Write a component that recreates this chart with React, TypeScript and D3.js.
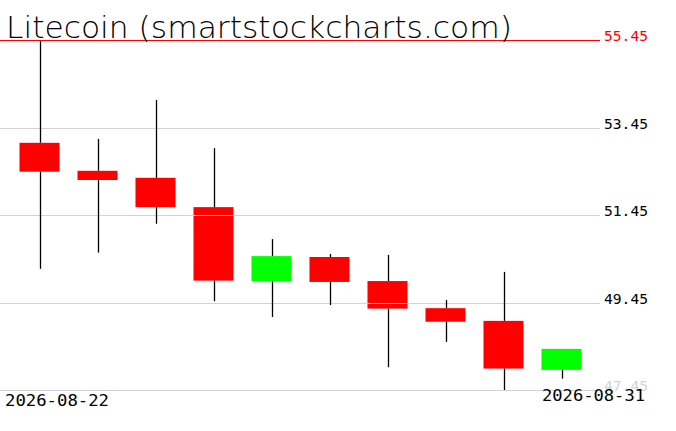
import { useEffect, useRef } from "react";
import * as d3 from "d3";

const dates = ["2026-08-22", "2026-08-23", "2026-08-24", "2026-08-25", "2026-08-26", "2026-08-27", "2026-08-28", "2026-08-29", "2026-08-30", "2026-08-31"];
const opens = [53.10, 52.46, 52.30, 51.63, 49.94, 50.49, 49.94, 49.32, 49.03, 47.91];
const highs = [55.45, 53.19, 54.08, 52.98, 50.90, 50.56, 50.54, 49.51, 50.15, 48.39];
const lows = [50.22, 50.59, 51.25, 49.48, 49.12, 49.39, 47.97, 48.55, 47.45, 47.71];
const closes = [52.44, 52.25, 51.63, 49.95, 50.51, 49.92, 49.31, 49.01, 47.94, 48.39];
const yTicks = [47.45, 49.45, 51.45, 53.45, 55.45];
const title = "Litecoin (smartstockcharts.com)";

export default function App() {
  const svgRef = useRef<SVGSVGElement>(null);

  useEffect(() => {
    if (!svgRef.current) return;
    const width = 676;
    const height = 431;
    const svg = d3.select(svgRef.current);
    svg.selectAll("*").remove();
    svg.attr("width", width).attr("height", height);

    const rows = dates.map((d, i) => ({ date: d, open: opens[i], high: highs[i], low: lows[i], close: closes[i] }));

    const x = d3.scaleBand<string>()
      .domain(dates)
      .range([10.5, 590.5])
      .paddingInner(0.31)
      .paddingOuter(0.155);
    const y = d3.scaleLinear().domain([47.45, 55.45]).range([390, 40]);

    const mono = "'DejaVu Sans Mono', monospace";

    // candle bodies
    svg.append("g")
      .selectAll("rect")
      .data(rows)
      .enter()
      .append("rect")
      .attr("x", d => x(d.date)!)
      .attr("width", x.bandwidth())
      .attr("y", d => y(Math.max(d.open, d.close)))
      .attr("height", d => Math.max(1, Math.abs(y(d.open) - y(d.close))))
      .attr("fill", d => (d.close >= d.open ? "#00ff00" : "#ff0000"));

    // gridlines (top one red)
    svg.append("g")
      .selectAll("line")
      .data(yTicks)
      .enter()
      .append("line")
      .attr("x1", 0)
      .attr("x2", 600)
      .attr("y1", d => Math.round(y(d)) + 0.5)
      .attr("y2", d => Math.round(y(d)) + 0.5)
      .attr("stroke", d => (d === 55.45 ? "#ff0000" : "#d3d3d3"))
      .attr("stroke-width", 1);

    // wicks, upper and lower parts
    const cx = (d: string) => Math.round(x(d)! + x.bandwidth() / 2) + 0.5;
    const wicks = svg.append("g").attr("stroke", "#000").attr("stroke-width", 1.3);
    wicks.selectAll("line.up")
      .data(rows)
      .enter()
      .append("line")
      .attr("class", "up")
      .attr("x1", d => cx(d.date))
      .attr("x2", d => cx(d.date))
      .attr("y1", d => Math.max(y(d.high), 41))
      .attr("y2", d => y(Math.max(d.open, d.close)));
    wicks.selectAll("line.down")
      .data(rows)
      .enter()
      .append("line")
      .attr("class", "down")
      .attr("x1", d => cx(d.date))
      .attr("x2", d => cx(d.date))
      .attr("y1", d => y(Math.min(d.open, d.close)))
      .attr("y2", d => y(d.low));

    // right side price labels
    svg.append("g")
      .selectAll("text")
      .data(yTicks)
      .enter()
      .append("text")
      .attr("x", 604)
      .attr("y", d => y(d) + 1)
      .attr("font-family", mono)
      .attr("font-size", 14)
      .attr("textLength", 44)
      .attr("lengthAdjust", "spacingAndGlyphs")
      .attr("fill", d => (d === 55.45 ? "#ff0000" : d === 47.45 ? "#d3d3d3" : "#000"))
      .text(d => d.toFixed(2));

    // title
    svg.append("text")
      .attr("x", 6)
      .attr("y", 38)
      .attr("font-family", "'DejaVu Sans', sans-serif")
      .attr("font-weight", 200)
      .attr("font-size", 31)
      .attr("textLength", 506)
      .attr("lengthAdjust", "spacingAndGlyphs")
      .attr("fill", "#000")
      .text(title);

    // first and last dates
    svg.append("text")
      .attr("x", 5)
      .attr("y", 406)
      .attr("font-family", mono)
      .attr("font-size", 15)
      .attr("textLength", 104)
      .attr("lengthAdjust", "spacingAndGlyphs")
      .attr("fill", "#000")
      .text(dates[0]);
    svg.append("text")
      .attr("x", 542)
      .attr("y", 401)
      .attr("font-family", mono)
      .attr("font-size", 15)
      .attr("textLength", 103)
      .attr("lengthAdjust", "spacingAndGlyphs")
      .attr("fill", "#000")
      .text(dates[dates.length - 1]);
  }, []);

  return (
    <div style={{ position: "absolute", left: 0, top: 0, background: "#fff" }}>
      <svg ref={svgRef} style={{ display: "block" }}></svg>
    </div>
  );
}
